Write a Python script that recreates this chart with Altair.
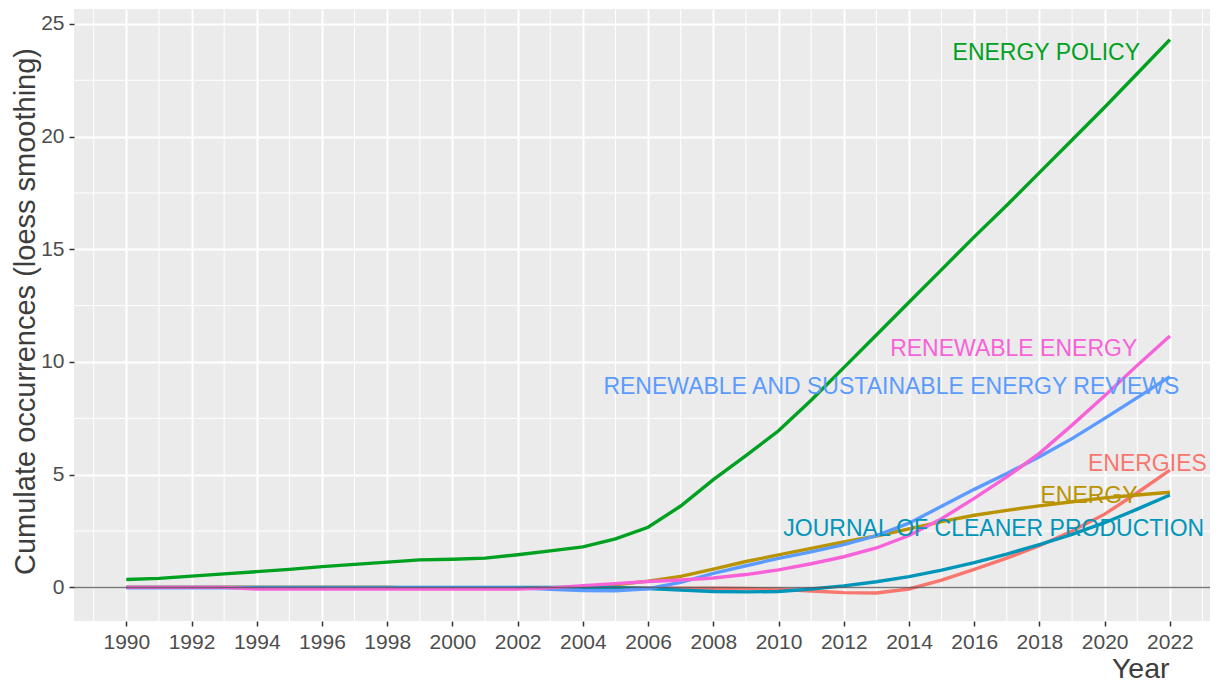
import altair as alt
import pandas as pd

years = list(range(1990, 2023))

series_names = [
    "ENERGIES",
    "ENERGY",
    "ENERGY POLICY",
    "JOURNAL OF CLEANER PRODUCTION",
    "RENEWABLE AND SUSTAINABLE ENERGY REVIEWS",
    "RENEWABLE ENERGY",
]
series_colors = ["#F8766D", "#B99300", "#00A020", "#0095B9", "#5B9BFF", "#F862D8"]

energies = [0.0, 0.0, 0.0, 0.0, 0.0, 0.0, 0.0, 0.0, 0.0,
            -0.03, -0.03, -0.03, -0.03, -0.03,
            -0.02, -0.02, -0.02, -0.03, -0.04,
            -0.05, -0.08, -0.16, -0.23, -0.25, -0.07, 0.32, 0.8, 1.3, 1.85, 2.5, 3.25, 4.2, 5.2]
energy = [0.0, 0.0, 0.0, 0.0, 0.0, 0.0, 0.0, 0.0, 0.0,
          -0.04, -0.04, -0.04, -0.04, -0.04,
          0.03, 0.12, 0.28, 0.49, 0.81, 1.15, 1.44, 1.73, 2.02, 2.28, 2.6, 2.92, 3.2, 3.42,
          3.62, 3.8, 3.97, 4.1, 4.22]
energy_policy = [0.35, 0.40, 0.50, 0.60, 0.70, 0.80, 0.92, 1.02, 1.12, 1.22, 1.25, 1.30, 1.45,
                 1.62, 1.80, 2.15, 2.67, 3.61, 4.78, 5.85, 6.95, 8.3, 9.75, 11.2, 12.65, 14.1,
                 15.55, 16.95, 18.4, 19.85, 21.3, 22.8, 24.3]
journal_cleaner = [0.0] * 16 + [-0.05, -0.12, -0.18, -0.2, -0.18, -0.07, 0.07, 0.25, 0.48, 0.77,
                                1.1, 1.48, 1.9, 2.35, 2.87, 3.47, 4.1]
raser = [-0.02] * 13 + [-0.08, -0.14, -0.15, -0.06, 0.22, 0.62, 0.96, 1.29, 1.58, 1.9, 2.3, 2.85,
                        3.6, 4.35, 5.05, 5.8, 6.6, 7.5, 8.42, 9.35]
renewable_energy = [0.0] * 4 + [-0.07] * 9 + [-0.02, 0.08, 0.17, 0.26, 0.33, 0.42, 0.57, 0.78,
                                              1.05, 1.36, 1.75, 2.3, 3.05, 3.95, 4.9, 5.95, 7.2,
                                              8.5, 9.85, 11.15]

series_values = [energies, energy, energy_policy, journal_cleaner, raser, renewable_energy]

# label anchors (data coordinates)
label_x = [2021.31, 2019.52, 2018.21, 2016.6, 2013.46, 2017.21]
label_y = [5.48, 4.04, 23.69, 2.6, 8.88, 10.58]

major_x = list(range(1990, 2023, 2))
minor_x = list(range(1989, 2024, 2))
major_y = [0, 5, 10, 15, 20, 25]
minor_y = [2.5, 7.5, 12.5, 17.5, 22.5]

rows = []
for name, vals in zip(series_names, series_values):
    for yr, v in zip(years, vals):
        rows.append({"journal": name, "year": yr, "value": v})
df = pd.DataFrame(rows)

labels_df = pd.DataFrame({"journal": series_names, "year": label_x, "value": label_y})

FONT = "Liberation Sans"
x_scale = alt.Scale(domain=[1988.396, 2023.23], nice=False, zero=False)
y_scale = alt.Scale(domain=[-1.49, 25.66], nice=False, zero=False)
color_scale = alt.Scale(domain=series_names, range=series_colors)

x_axis = alt.Axis(
    values=major_x, format="d", grid=True, gridColor="white", gridWidth=2,
    domain=False, ticks=True, tickColor="#333333", tickSize=5, tickWidth=1.5,
    labelFont=FONT, labelFontSize=21, labelColor="#4D4D4D", labelPadding=22,
    labelBaseline="alphabetic", labelFlush=False, labelOverlap=False,
    title="Year", titleFont=FONT, titleFontSize=28.5, titleFontWeight="normal",
    titleColor="#3D3D3D", titleAlign="right", titleX=1095, titleY=56,
    titleBaseline="alphabetic",
)
y_axis = alt.Axis(
    values=major_y, format="d", grid=True, gridColor="white", gridWidth=2,
    domain=False, ticks=True, tickColor="#333333", tickSize=5, tickWidth=1.5,
    labelFont=FONT, labelFontSize=21, labelColor="#4D4D4D", labelPadding=5,
    labelBaseline="middle", labelFlush=False, labelOverlap=False,
    title="Cumulate occurrences (loess smoothing)", titleFont=FONT, titleFontSize=29,
    titleFontWeight="normal", titleColor="#3D3D3D", titleAngle=270, titleX=-40,
    titleY=302, titleAlign="center", titleBaseline="alphabetic",
)


def xenc():
    return alt.X("year:Q", scale=x_scale, axis=x_axis)


def yenc():
    return alt.Y("value:Q", scale=y_scale, axis=y_axis)


minor_x_layer = alt.Chart(pd.DataFrame({"year": minor_x})).mark_rule(
    color="white", strokeWidth=1
).encode(x=xenc())

minor_y_layer = alt.Chart(pd.DataFrame({"value": minor_y})).mark_rule(
    color="white", strokeWidth=1
).encode(y=yenc())

lines = alt.Chart(df).mark_line(strokeWidth=3.4).encode(
    x=xenc(),
    y=yenc(),
    color=alt.Color("journal:N", scale=color_scale, legend=None),
    order=alt.Order("year:Q"),
)

zero_line = alt.Chart(pd.DataFrame({"value": [0]})).mark_rule(
    color="#555555", strokeWidth=1.5, opacity=0.8
).encode(y=yenc())

texts = alt.Chart(labels_df).mark_text(
    font=FONT, fontSize=23, align="center", baseline="middle"
).encode(
    x=xenc(),
    y=yenc(),
    text="journal:N",
    color=alt.Color("journal:N", scale=color_scale, legend=None),
)

chart = alt.layer(minor_x_layer, minor_y_layer, lines, zero_line, texts).properties(
    width=1136,
    height=612,
    background="white",
    autosize=alt.AutoSizeParams(type="none"),
    padding={"left": 66, "top": 1, "right": 0, "bottom": 62},
).configure_view(fill="#EBEBEB", strokeWidth=0)

chart.save("out.html", embed_options={"renderer": "svg", "actions": False})
